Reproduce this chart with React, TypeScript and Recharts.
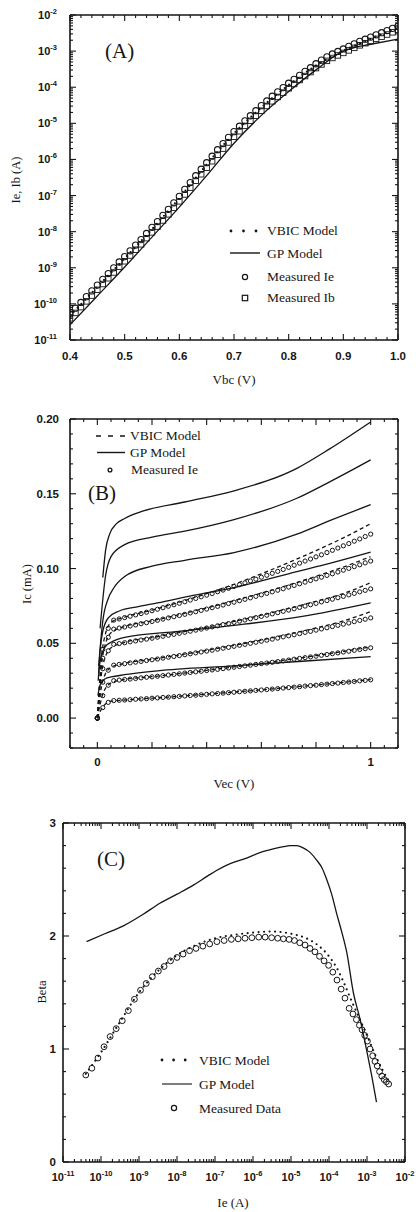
import React from "react";
import { ComposedChart, XAxis, YAxis, Line, Scatter } from "recharts";

const INK = "#151515";
const SANS = "'Liberation Sans', Arial, sans-serif";
const SERIF = "'Liberation Serif', 'Times New Roman', serif";

// ---------- (A) Ie, Ib vs Vbc (log10 of current) ----------
const vbc = [
  0.40, 0.41, 0.42, 0.43, 0.44, 0.45, 0.46, 0.47, 0.48, 0.49,
  0.50, 0.51, 0.52, 0.53, 0.54, 0.55, 0.56, 0.57, 0.58, 0.59,
  0.60, 0.61, 0.62, 0.63, 0.64, 0.65, 0.66, 0.67, 0.68, 0.69,
  0.70, 0.71, 0.72, 0.73, 0.74, 0.75, 0.76, 0.77, 0.78, 0.79,
  0.80, 0.81, 0.82, 0.83, 0.84, 0.85, 0.86, 0.87, 0.88, 0.89,
  0.90, 0.91, 0.92, 0.93, 0.94, 0.95, 0.96, 0.97, 0.98, 0.99,
  1.00,
];
const ieMeasLog = [
  -10.28, -10.12, -9.96, -9.80, -9.64, -9.48, -9.32, -9.16, -9.00, -8.84,
  -8.69, -8.53, -8.37, -8.22, -8.05, -7.88, -7.72, -7.55, -7.38, -7.20,
  -7.02, -6.83, -6.64, -6.45, -6.27, -6.09, -5.91, -5.73, -5.56, -5.39,
  -5.23, -5.08, -4.93, -4.79, -4.65, -4.51, -4.38, -4.25, -4.13, -4.01,
  -3.89, -3.78, -3.67, -3.56, -3.46, -3.35, -3.25, -3.16, -3.08, -3.01,
  -2.94, -2.87, -2.80, -2.73, -2.67, -2.61, -2.55, -2.49, -2.43, -2.37,
  -2.31,
];
const ibMeasLog = [
  -10.40, -10.25, -10.09, -9.93, -9.77, -9.61, -9.45, -9.29, -9.13, -8.97,
  -8.82, -8.66, -8.50, -8.35, -8.18, -8.02, -7.86, -7.69, -7.52, -7.34,
  -7.16, -6.97, -6.78, -6.59, -6.41, -6.23, -6.05, -5.87, -5.70, -5.53,
  -5.37, -5.22, -5.07, -4.93, -4.79, -4.65, -4.52, -4.39, -4.27, -4.15,
  -4.03, -3.91, -3.80, -3.69, -3.58, -3.47, -3.37, -3.27, -3.19, -3.12,
  -3.05, -2.98, -2.91, -2.84, -2.78, -2.72, -2.66, -2.60, -2.54, -2.48,
  -2.41,
];
const vbcModel = [0.40, 0.45, 0.50, 0.55, 0.60, 0.65, 0.70, 0.75, 0.80, 0.85, 0.90, 0.92, 0.95, 1.00];
const gpALog = [-10.58, -9.78, -8.98, -8.15, -7.32, -6.45, -5.55, -4.78, -4.12, -3.52, -3.00, -2.90, -2.81, -2.67];
const vbicALog = [-10.33, -9.53, -8.74, -7.93, -7.07, -6.14, -5.28, -4.56, -3.94, -3.40, -2.99, -2.85, -2.66, -2.36];

// ---------- (B) Ic vs Vec (mA) ----------
const vec = [
  0, 0.02, 0.04, 0.06, 0.08, 0.10, 0.12, 0.14, 0.16, 0.18,
  0.20, 0.22, 0.24, 0.26, 0.28, 0.30, 0.32, 0.34, 0.36, 0.38,
  0.40, 0.42, 0.44, 0.46, 0.48, 0.50, 0.52, 0.54, 0.56, 0.58,
  0.60, 0.62, 0.64, 0.66, 0.68, 0.70, 0.72, 0.74, 0.76, 0.78,
  0.80, 0.82, 0.84, 0.86, 0.88, 0.90, 0.92, 0.94, 0.96, 0.98,
  1.00,
];
const measB1 = [
  0, 0.046, 0.060, 0.0655, 0.0663, 0.0672, 0.0681, 0.0690, 0.0699, 0.0708,
  0.0718, 0.0728, 0.0738, 0.0748, 0.0758, 0.0768, 0.0778, 0.0789, 0.0800, 0.0811,
  0.0822, 0.0833, 0.0845, 0.0856, 0.0868, 0.0880, 0.0892, 0.0904, 0.0917, 0.0929,
  0.0942, 0.0955, 0.0968, 0.0981, 0.0994, 0.1008, 0.1022, 0.1036, 0.1050, 0.1064,
  0.1078, 0.1092, 0.1107, 0.1122, 0.1137, 0.1152, 0.1167, 0.1183, 0.1198, 0.1214,
  0.1230,
];
const measB2 = [
  0, 0.040, 0.054, 0.0595, 0.0602, 0.0609, 0.0616, 0.0623, 0.0631, 0.0638,
  0.0646, 0.0654, 0.0662, 0.0670, 0.0678, 0.0686, 0.0694, 0.0703, 0.0711, 0.0720,
  0.0729, 0.0738, 0.0747, 0.0756, 0.0766, 0.0775, 0.0785, 0.0794, 0.0804, 0.0814,
  0.0824, 0.0834, 0.0844, 0.0855, 0.0865, 0.0876, 0.0887, 0.0898, 0.0909, 0.0920,
  0.0931, 0.0942, 0.0954, 0.0965, 0.0977, 0.0989, 0.1001, 0.1013, 0.1025, 0.1038,
  0.1050,
];
const measB3 = [
  0, 0.033, 0.045, 0.0493, 0.0498, 0.0504, 0.0510, 0.0516, 0.0522, 0.0528,
  0.0534, 0.0541, 0.0547, 0.0554, 0.0560, 0.0567, 0.0574, 0.0581, 0.0588, 0.0595,
  0.0602, 0.0610, 0.0617, 0.0625, 0.0632, 0.0640, 0.0648, 0.0656, 0.0664, 0.0672,
  0.0680, 0.0688, 0.0697, 0.0705, 0.0714, 0.0722, 0.0731, 0.0740, 0.0749, 0.0758,
  0.0767, 0.0777, 0.0786, 0.0795, 0.0805, 0.0814, 0.0824, 0.0834, 0.0844, 0.0854,
  0.0864,
];
const measB4 = [
  0, 0.024, 0.032, 0.0354, 0.0359, 0.0364, 0.0369, 0.0374, 0.0379, 0.0385,
  0.0390, 0.0395, 0.0401, 0.0407, 0.0412, 0.0418, 0.0424, 0.0430, 0.0436, 0.0442,
  0.0448, 0.0454, 0.0461, 0.0467, 0.0473, 0.0480, 0.0487, 0.0493, 0.0500, 0.0507,
  0.0514, 0.0521, 0.0528, 0.0535, 0.0543, 0.0550, 0.0557, 0.0565, 0.0573, 0.0580,
  0.0588, 0.0596, 0.0604, 0.0612, 0.0620, 0.0628, 0.0636, 0.0645, 0.0653, 0.0661,
  0.0670,
];
const measB5 = [
  0, 0.015, 0.022, 0.0250, 0.0254, 0.0258, 0.0261, 0.0265, 0.0269, 0.0273,
  0.0276, 0.0280, 0.0284, 0.0288, 0.0292, 0.0296, 0.0301, 0.0305, 0.0309, 0.0313,
  0.0318, 0.0322, 0.0326, 0.0331, 0.0335, 0.0340, 0.0345, 0.0349, 0.0354, 0.0359,
  0.0364, 0.0368, 0.0373, 0.0378, 0.0383, 0.0388, 0.0394, 0.0399, 0.0404, 0.0409,
  0.0414, 0.0420, 0.0425, 0.0431, 0.0436, 0.0442, 0.0447, 0.0453, 0.0459, 0.0464,
  0.0470,
];
const measB6 = [
  0, 0.007, 0.0105, 0.0117, 0.0119, 0.0121, 0.0123, 0.0126, 0.0128, 0.0130,
  0.0133, 0.0135, 0.0138, 0.0140, 0.0143, 0.0145, 0.0148, 0.0151, 0.0153, 0.0156,
  0.0159, 0.0162, 0.0164, 0.0167, 0.0170, 0.0173, 0.0176, 0.0179, 0.0182, 0.0185,
  0.0188, 0.0191, 0.0194, 0.0197, 0.0201, 0.0204, 0.0207, 0.0210, 0.0214, 0.0217,
  0.0220, 0.0224, 0.0227, 0.0231, 0.0234, 0.0238, 0.0241, 0.0245, 0.0249, 0.0252,
  0.0256,
];

const vecVbic = [0, 0.02, 0.05, 0.1, 0.2, 0.3, 0.4, 0.5, 0.6, 0.7, 0.8, 0.9, 1.0];
const vbicB1 = [0, 0.048, 0.064, 0.0675, 0.0722, 0.0775, 0.0832, 0.0895, 0.0965, 0.1040, 0.1120, 0.1205, 0.1300];
const vbicB2 = [0, 0.042, 0.057, 0.0612, 0.0650, 0.0692, 0.0737, 0.0785, 0.0836, 0.0890, 0.0948, 0.1010, 0.1080];
const vbicB3 = [0, 0.035, 0.047, 0.0507, 0.0538, 0.0572, 0.0608, 0.0646, 0.0688, 0.0733, 0.0781, 0.0833, 0.0905];
const vbicB4 = [0, 0.025, 0.034, 0.0366, 0.0393, 0.0422, 0.0453, 0.0486, 0.0522, 0.0561, 0.0603, 0.0650, 0.0712];
const vbicB5 = [0, 0.016, 0.0235, 0.0258, 0.0277, 0.0297, 0.0319, 0.0342, 0.0366, 0.0391, 0.0418, 0.0446, 0.0476];
const vbicB6 = [0, 0.0075, 0.0113, 0.0121, 0.0133, 0.0146, 0.0160, 0.0174, 0.0189, 0.0205, 0.0221, 0.0239, 0.0258];

const gpB1x = [0.02, 0.03, 0.045, 0.07, 0.1, 0.16, 0.32, 0.5, 0.73, 0.85, 1.0];
const gpB1y = [0.094, 0.112, 0.123, 0.130, 0.1335, 0.138, 0.1445, 0.152, 0.167, 0.180, 0.198];
const gpB2x = [0.01, 0.03, 0.05, 0.1, 0.2, 0.32, 0.5, 0.73, 0.85, 1.0];
const gpB2y = [0.060, 0.095, 0.108, 0.116, 0.121, 0.125, 0.1327, 0.147, 0.158, 0.1727];
const gpB3x = [0.005, 0.02, 0.04, 0.06, 0.1, 0.2, 0.32, 0.5, 0.73, 0.85, 1.0];
const gpB3y = [0.035, 0.065, 0.080, 0.087, 0.0947, 0.1016, 0.1055, 0.1107, 0.123, 0.132, 0.1427];
const gpB4x = [0.005, 0.01, 0.02, 0.04, 0.08, 0.15, 0.22, 0.35, 0.5, 0.73, 0.85, 1.0];
const gpB4y = [0.030, 0.045, 0.058, 0.067, 0.0716, 0.0745, 0.077, 0.082, 0.0873, 0.098, 0.1035, 0.111];
const gpB5x = [0.003, 0.01, 0.03, 0.05, 0.1, 0.3, 0.5, 0.75, 1.0];
const gpB5y = [0.025, 0.038, 0.048, 0.0507, 0.054, 0.058, 0.062, 0.068, 0.0771];
const gpB6x = [0.002, 0.01, 0.03, 0.05, 0.1, 0.22, 0.5, 0.75, 1.0];
const gpB6y = [0.015, 0.022, 0.0265, 0.0275, 0.029, 0.0316, 0.0349, 0.038, 0.0411];

// ---------- (C) Beta vs Ie (log10 of Ie) ----------
const ieCLog = [
  -10.40, -10.24, -10.08, -9.92, -9.76, -9.60, -9.44, -9.28, -9.12, -8.96,
  -8.81, -8.65, -8.49, -8.34, -8.17, -8.00, -7.84, -7.67, -7.50, -7.32,
  -7.14, -6.95, -6.76, -6.57, -6.39, -6.21, -6.03, -5.85, -5.68, -5.51,
  -5.35, -5.20, -5.05, -4.91, -4.77, -4.63, -4.50, -4.37, -4.25, -4.13,
  -4.01, -3.90, -3.79, -3.68, -3.58, -3.47, -3.37, -3.28, -3.20, -3.13,
  -3.06, -2.99, -2.92, -2.85, -2.79, -2.73, -2.67, -2.61, -2.55, -2.49,
  -2.43,
];
const betaMeas = [
  0.77, 0.83, 0.92, 1.02, 1.11, 1.18, 1.25, 1.34, 1.44, 1.52,
  1.58, 1.64, 1.69, 1.73, 1.78, 1.81, 1.84, 1.87, 1.89, 1.91,
  1.93, 1.95, 1.96, 1.97, 1.975, 1.98, 1.985, 1.99, 1.99, 1.985,
  1.98, 1.975, 1.97, 1.96, 1.94, 1.92, 1.89, 1.86, 1.82, 1.78,
  1.74, 1.68, 1.61, 1.53, 1.45, 1.36, 1.31, 1.26, 1.21, 1.17,
  1.12, 1.07, 1.00, 0.94, 0.89, 0.85, 0.80, 0.76, 0.73, 0.71,
  0.69,
];
const vbicCLog = [-10.4, -10, -9.5, -9, -8.5, -8, -7.5, -7, -6.5, -6, -5.5, -5, -4.6, -4.3, -4.0, -3.8, -3.6, -3.4, -3.2, -3.0, -2.8, -2.6, -2.43];
const betaVbic = [0.78, 0.97, 1.24, 1.50, 1.69, 1.83, 1.92, 1.98, 2.01, 2.03, 2.04, 2.02, 1.98, 1.92, 1.82, 1.72, 1.58, 1.42, 1.27, 1.12, 0.96, 0.82, 0.72];
const gpCLog = [-10.38, -9.9, -9.41, -8.9, -8.45, -8.0, -7.57, -7.2, -6.96, -6.6, -6.17, -5.8, -5.47, -5.2, -5.03, -4.85, -4.68, -4.5, -4.32, -4.18, -4.06, -3.93, -3.80, -3.66, -3.53, -3.36, -3.18, -3.01, -2.88, -2.75];
const betaGp = [1.95, 2.02, 2.09, 2.19, 2.29, 2.37, 2.45, 2.53, 2.58, 2.64, 2.69, 2.74, 2.77, 2.79, 2.80, 2.80, 2.78, 2.74, 2.67, 2.60, 2.50, 2.37, 2.20, 2.03, 1.85, 1.50, 1.26, 0.99, 0.77, 0.53];

// ---------- helpers ----------
const pts = (xs: number[], ys: number[]) => xs.map((x, i) => ({ x, y: ys[i] }));
const logY = (xs: number[], es: number[]) => xs.map((x, i) => ({ x, y: 10 ** es[i] }));
const logX = (es: number[], ys: number[]) => es.map((e, i) => ({ x: 10 ** e, y: ys[i] }));

const near = (a: number, b: number) => Math.abs(a - b) < 1e-6;
const isDecade = (v: number) => near(Math.log10(v), Math.round(Math.log10(v)));
const multipleOf = (s: number) => (v: number) => near(v / s, Math.round(v / s));

const logTicks = (lo: number, hi: number) => {
  const t: number[] = [];
  for (let e = lo; e < hi; e++) for (let m = 1; m < 10; m++) t.push(Number((m * 10 ** e).toPrecision(3)));
  t.push(Number((10 ** hi).toPrecision(3)));
  return t;
};
const linTicks = (lo: number, hi: number, step: number) => {
  const t: number[] = [];
  const n = Math.round((hi - lo) / step);
  for (let i = 0; i <= n; i++) t.push(Math.round((lo + i * step) * 1e6) / 1e6);
  return t;
};

const ticksA = linTicks(0.4, 1.0, 0.02);
const ticksLog = logTicks(-11, -2);
const ticksBx = linTicks(-0.1, 1.1, 0.05);
const ticksBy = linTicks(-0.02, 0.2, 0.01);
const ticksCy = linTicks(0, 3, 0.2);

function Pow10({ x, y, value, anchor }: { x: number; y: number; value: number; anchor: "end" | "middle" }) {
  const e = Math.round(Math.log10(value));
  return (
    <text x={x} y={y} textAnchor={anchor} fontFamily={SANS} fontSize={11} fontWeight="bold" fill={INK}>
      10
      <tspan dy={-5} fontSize={7.5}>{e}</tspan>
    </text>
  );
}

const num = (s: string, x: number, y: number, anchor: "end" | "middle") => (
  <text x={x} y={y} textAnchor={anchor} fontFamily={SANS} fontSize={11.5} fontWeight="bold" fill={INK}>
    {s}
  </text>
);

type Side = "left" | "right" | "top" | "bottom";
function makeTick(side: Side, isMajor: (v: number) => boolean, label?: (v: number, x: number, y: number) => React.ReactNode, big = 6, small = 3) {
  return (p: any) => {
    const v = p.payload.value;
    const len = isMajor(v) ? big : small;
    const { x, y } = p;
    let l;
    if (side === "left") l = <line x1={x} x2={x + len} y1={y} y2={y} stroke={INK} strokeWidth={1.1} />;
    else if (side === "right") l = <line x1={x} x2={x - len} y1={y} y2={y} stroke={INK} strokeWidth={1.1} />;
    else if (side === "bottom") l = <line x1={x} x2={x} y1={y} y2={y - len} stroke={INK} strokeWidth={1.1} />;
    else l = <line x1={x} x2={x} y1={y} y2={y + len} stroke={INK} strokeWidth={1.1} />;
    return (
      <g>
        {l}
        {label && isMajor(v) ? label(v, x, y) : null}
      </g>
    );
  };
}

const axisBase = {
  allowDataOverflow: true,
  interval: 0 as const,
  tickSize: 0,
  tickMargin: 0,
  tickLine: false,
  axisLine: { stroke: INK, strokeWidth: 1.6 },
};

const ring = (r: number, w: number) => (p: any) => (
  <circle cx={p.cx} cy={p.cy} r={r} fill="none" stroke={INK} strokeWidth={w} />
);
const box = (s: number) => (p: any) => (
  <rect x={p.cx - s / 2} y={p.cy - s / 2} width={s} height={s} fill="none" stroke={INK} strokeWidth={0.9} />
);

const ids = { xAxisId: "b", yAxisId: "l" };
const solid = { stroke: INK, strokeWidth: 1.3, dot: false, type: "monotone" as const, isAnimationActive: false };
const dotted = { stroke: INK, strokeWidth: 2.2, strokeDasharray: "0 5.5", strokeLinecap: "round" as const, dot: false, type: "monotone" as const, isAnimationActive: false };
const dashed = { stroke: INK, strokeWidth: 1.3, strokeDasharray: "4 3", dot: false, type: "monotone" as const, isAnimationActive: false };

function PanelA() {
  const majorX = multipleOf(0.1);
  return (
    <ComposedChart width={416} height={400} margin={{ top: 0, right: 0, bottom: 0, left: 0 }}>
      <XAxis xAxisId="b" dataKey="x" type="number" domain={[0.4, 1.0]} ticks={ticksA} height={60} {...axisBase}
        tick={makeTick("bottom", majorX, (v, x, y) => num(v.toFixed(1), x, y + 20, "middle"))} />
      <XAxis xAxisId="t" orientation="top" dataKey="x" type="number" domain={[0.4, 1.0]} ticks={ticksA} height={15} {...axisBase}
        tick={makeTick("top", majorX)} />
      <YAxis yAxisId="l" dataKey="y" type="number" scale="log" domain={[1e-11, 1e-2]} ticks={ticksLog} width={70} {...axisBase}
        tick={makeTick("left", isDecade, (v, x, y) => <Pow10 x={x - 13} y={y + 4} value={v} anchor="end" />)} />
      <YAxis yAxisId="r" orientation="right" dataKey="y" type="number" scale="log" domain={[1e-11, 1e-2]} ticks={ticksLog} width={18} {...axisBase}
        tick={makeTick("right", isDecade)} />
      <Line {...ids} data={logY(vbcModel, gpALog)} dataKey="y" {...solid} />
      <Scatter {...ids} data={logY(vbc, ibMeasLog)} shape={box(5.5)} isAnimationActive={false} />
      <Scatter {...ids} data={logY(vbc, ieMeasLog)} shape={ring(3.1, 1.1)} isAnimationActive={false} />
      <Line {...ids} data={logY(vbcModel, vbicALog)} dataKey="y" {...dotted} />
    </ComposedChart>
  );
}

function PanelB() {
  const majorX = multipleOf(0.2);
  const majorY = multipleOf(0.05);
  const meas = [measB1, measB2, measB3, measB4, measB5, measB6];
  const vbic = [vbicB1, vbicB2, vbicB3, vbicB4, vbicB5, vbicB6];
  const gp = [
    [gpB1x, gpB1y], [gpB2x, gpB2y], [gpB3x, gpB3y],
    [gpB4x, gpB4y], [gpB5x, gpB5y], [gpB6x, gpB6y],
  ];
  return (
    <ComposedChart width={416} height={400} margin={{ top: 0, right: 0, bottom: 0, left: 0 }}>
      <XAxis xAxisId="b" dataKey="x" type="number" domain={[-0.1, 1.1]} ticks={ticksBx} height={52} {...axisBase}
        tick={makeTick("bottom", majorX, (v, x, y) => (near(v, 0) || near(v, 1) ? num(String(Math.round(v)), x, y + 18, "middle") : null))} />
      <XAxis xAxisId="t" orientation="top" dataKey="x" type="number" domain={[-0.1, 1.1]} ticks={ticksBx} height={19} {...axisBase}
        tick={makeTick("top", majorX)} />
      <YAxis yAxisId="l" dataKey="y" type="number" domain={[-0.02, 0.2]} ticks={ticksBy} width={70} {...axisBase}
        tick={makeTick("left", majorY, (v, x, y) => num(v.toFixed(2), x - 11, y + 4, "end"))} />
      <YAxis yAxisId="r" orientation="right" dataKey="y" type="number" domain={[-0.02, 0.2]} ticks={ticksBy} width={18} {...axisBase}
        tick={makeTick("right", majorY)} />
      {gp.map(([xs, ys], i) => (
        <Line key={"g" + i} {...ids} data={pts(xs, ys)} dataKey="y" {...solid} />
      ))}
      {meas.map((ys, i) => (
        <Scatter key={"m" + i} {...ids} data={pts(vec, ys)} shape={ring(2.1, 1)} isAnimationActive={false} />
      ))}
      {vbic.map((ys, i) => (
        <Line key={"v" + i} {...ids} data={pts(vecVbic, ys)} dataKey="y" {...dashed} />
      ))}
    </ComposedChart>
  );
}

function PanelC() {
  const majorY = multipleOf(1);
  return (
    <ComposedChart width={416} height={412} margin={{ top: 0, right: 0, bottom: 0, left: 0 }}>
      <XAxis xAxisId="b" dataKey="x" type="number" scale="log" domain={[1e-11, 1e-2]} ticks={ticksLog} height={50} {...axisBase}
        tick={makeTick("bottom", isDecade, (v, x, y) => <Pow10 x={x} y={y + 19} value={v} anchor="middle" />)} />
      <XAxis xAxisId="t" orientation="top" dataKey="x" type="number" scale="log" domain={[1e-11, 1e-2]} ticks={ticksLog} height={23} {...axisBase}
        tick={makeTick("top", isDecade)} />
      <YAxis yAxisId="l" dataKey="y" type="number" domain={[0, 3]} ticks={ticksCy} width={63} {...axisBase}
        tick={makeTick("left", majorY, (v, x, y) => num(String(Math.round(v)), x - 7, y + 4, "end"))} />
      <YAxis yAxisId="r" orientation="right" dataKey="y" type="number" domain={[0, 3]} ticks={ticksCy} width={11} {...axisBase}
        tick={makeTick("right", majorY)} />
      <Line {...ids} data={logX(gpCLog, betaGp)} dataKey="y" {...solid} />
      <Line {...ids} data={logX(vbicCLog, betaVbic)} dataKey="y" {...dotted} />
      <Scatter {...ids} data={logX(ieCLog, betaMeas)} shape={ring(2.9, 1)} isAnimationActive={false} />
    </ComposedChart>
  );
}

const T = (p: { x: number; y: number; size?: number; anchor?: "start" | "middle" | "end"; rot?: boolean; children: React.ReactNode }) => (
  <text
    x={p.x}
    y={p.y}
    fontFamily={SERIF}
    fontSize={p.size ?? 13.5}
    fill={INK}
    textAnchor={p.anchor ?? "start"}
    transform={p.rot ? `rotate(-90 ${p.x} ${p.y})` : undefined}
  >
    {p.children}
  </text>
);

function Overlay() {
  const dots = (x0: number, y: number, gap: number) => (
    <g fill={INK}>
      <circle cx={x0} cy={y} r={1.4} />
      <circle cx={x0 + gap} cy={y} r={1.4} />
      <circle cx={x0 + 2 * gap} cy={y} r={1.4} />
    </g>
  );
  return (
    <svg width={416} height={1212} style={{ position: "absolute", left: 0, top: 0, pointerEvents: "none" }}>
      {/* panel A */}
      <T x={105} y={58} size={21}>(A)</T>
      {dots(231, 231, 12.5)}
      <T x={267} y={235}>VBIC Model</T>
      <line x1={230} x2={260} y1={253} y2={253} stroke={INK} strokeWidth={1.4} />
      <T x={267} y={258}>GP Model</T>
      <circle cx={245} cy={277} r={2.6} fill="none" stroke={INK} strokeWidth={1.2} />
      <T x={267} y={281}>Measured Ie</T>
      <rect x={242.3} y={295.3} width={5.4} height={5.4} fill="none" stroke={INK} strokeWidth={1.2} />
      <T x={267} y={302}>Measured Ib</T>
      <T x={20} y={180} size={12.5} anchor="middle" rot>Ie, Ib (A)</T>
      <T x={234} y={384} size={13} anchor="middle">Vbc (V)</T>

      {/* panel B */}
      <T x={88} y={500} size={21}>(B)</T>
      <line x1={96} x2={125} y1={436} y2={436} stroke={INK} strokeWidth={1.5} strokeDasharray="5 7" />
      <T x={130} y={440}>VBIC Model</T>
      <line x1={97} x2={125} y1={452.5} y2={452.5} stroke={INK} strokeWidth={1.4} />
      <T x={130} y={457}>GP Model</T>
      <circle cx={110} cy={470} r={1.9} fill="none" stroke={INK} strokeWidth={1.3} />
      <T x={131} y={474}>Measured Ie</T>
      <T x={31} y={584} size={12.5} anchor="middle" rot>Ic (mA)</T>
      <T x={234} y={788} size={13} anchor="middle">Vec (V)</T>

      {/* panel C */}
      <T x={97} y={866} size={21}>(C)</T>
      {dots(162, 1060, 11.6)}
      <T x={199} y={1065}>VBIC Model</T>
      <line x1={162} x2={192} y1={1084} y2={1084} stroke={INK} strokeWidth={1.1} />
      <T x={199} y={1089}>GP Model</T>
      <circle cx={174} cy={1108} r={2.6} fill="none" stroke={INK} strokeWidth={1.2} />
      <T x={199} y={1113}>Measured Data</T>
      <T x={46} y={992} size={12.5} anchor="middle" rot>Beta</T>
      <T x={233} y={1207} size={13} anchor="middle">Ie (A)</T>
    </svg>
  );
}

export default function App() {
  return (
    <div style={{ position: "absolute", left: 0, top: 0, width: 416, height: 1212, background: "#fff" }}>
      <div style={{ position: "absolute", left: 0, top: 0 }}>
        <PanelA />
      </div>
      <div style={{ position: "absolute", left: 0, top: 400 }}>
        <PanelB />
      </div>
      <div style={{ position: "absolute", left: 0, top: 800 }}>
        <PanelC />
      </div>
      <Overlay />
    </div>
  );
}
